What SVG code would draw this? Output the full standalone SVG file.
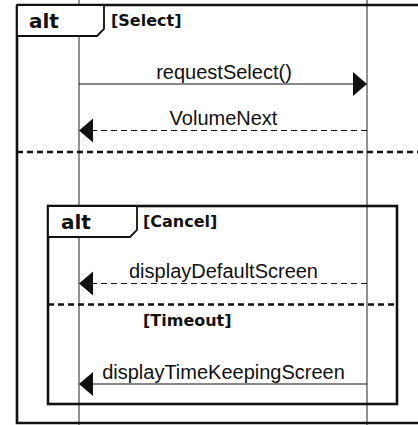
<svg xmlns="http://www.w3.org/2000/svg" width="418" height="425" viewBox="0 0 418 425">
<style>
.bg{fill:#ffffff}
.life{stroke:#222;stroke-width:1;fill:none}
.frame{stroke:#111;stroke-width:2.6;fill:none}
.tab{stroke:#111;stroke-width:1.8;fill:#ffffff}
.sep{stroke:#111;stroke-width:2.4;stroke-dasharray:6,4;fill:none}
.msg{stroke:#111;stroke-width:1.2;fill:none}
.dash{stroke:#111;stroke-width:1.2;stroke-dasharray:6,4;fill:none}
.head{fill:#111;stroke:none}
.kw{font-family:"DejaVu Sans",sans-serif;font-weight:bold;font-size:20px;fill:#111}
.guard{font-family:"DejaVu Sans",sans-serif;font-weight:bold;font-size:16px;fill:#111}
.lbl{font-family:"Liberation Sans",Arial,sans-serif;font-size:20px;fill:#111;text-anchor:middle}
</style>
<rect class="bg" x="0" y="0" width="418" height="425"/>
<g id="lifelines">
  <line class="life" x1="79" y1="0" x2="79" y2="425"/>
  <line class="life" x1="367" y1="0" x2="367" y2="425"/>
</g>
<g id="alt-outer">
  <path class="frame" d="M17,5 H420 M17,5 V423 H420"/>
  <path class="tab" d="M17,5 H104 V29 L97,36 H17 Z"/>
  <text class="kw" x="29" y="28">alt</text>
  <text class="guard" x="111" y="26">[Select]</text>
  <line class="sep" x1="17" y1="152" x2="420" y2="152"/>
</g>
<g id="alt-inner">
  <rect class="frame" x="48" y="206" width="349" height="198"/>
  <path class="tab" d="M48,206 H137 V230 L130,237 H48 Z"/>
  <text class="kw" x="61" y="229">alt</text>
  <text class="guard" x="143" y="227">[Cancel]</text>
  <line class="sep" x1="48" y1="304.5" x2="397" y2="304.5"/>
  <text class="guard" x="143" y="326">[Timeout]</text>
</g>
<g id="connectors">
  <g id="msg-requestSelect">
    <line class="msg" x1="79" y1="84" x2="355" y2="84"/>
    <polygon class="head" points="353,72 367,84 353,96"/>
    <text class="lbl" x="224" y="79">requestSelect()</text>
  </g>
  <g id="msg-VolumeNext">
    <line class="dash" x1="367" y1="130.5" x2="91" y2="130.5"/>
    <polygon class="head" points="93,118.5 79,130.5 93,142.5"/>
    <text class="lbl" x="223.5" y="125">VolumeNext</text>
  </g>
  <g id="msg-displayDefaultScreen">
    <line class="dash" x1="367" y1="283.5" x2="91" y2="283.5"/>
    <polygon class="head" points="93,271.5 79,283.5 93,295.5"/>
    <text class="lbl" x="223.5" y="278">displayDefaultScreen</text>
  </g>
  <g id="msg-displayTimeKeepingScreen">
    <line class="msg" x1="367" y1="384" x2="91" y2="384"/>
    <polygon class="head" points="93,372 79,384 93,396"/>
    <text class="lbl" x="223.5" y="379">displayTimeKeepingScreen</text>
  </g>
</g>
</svg>
